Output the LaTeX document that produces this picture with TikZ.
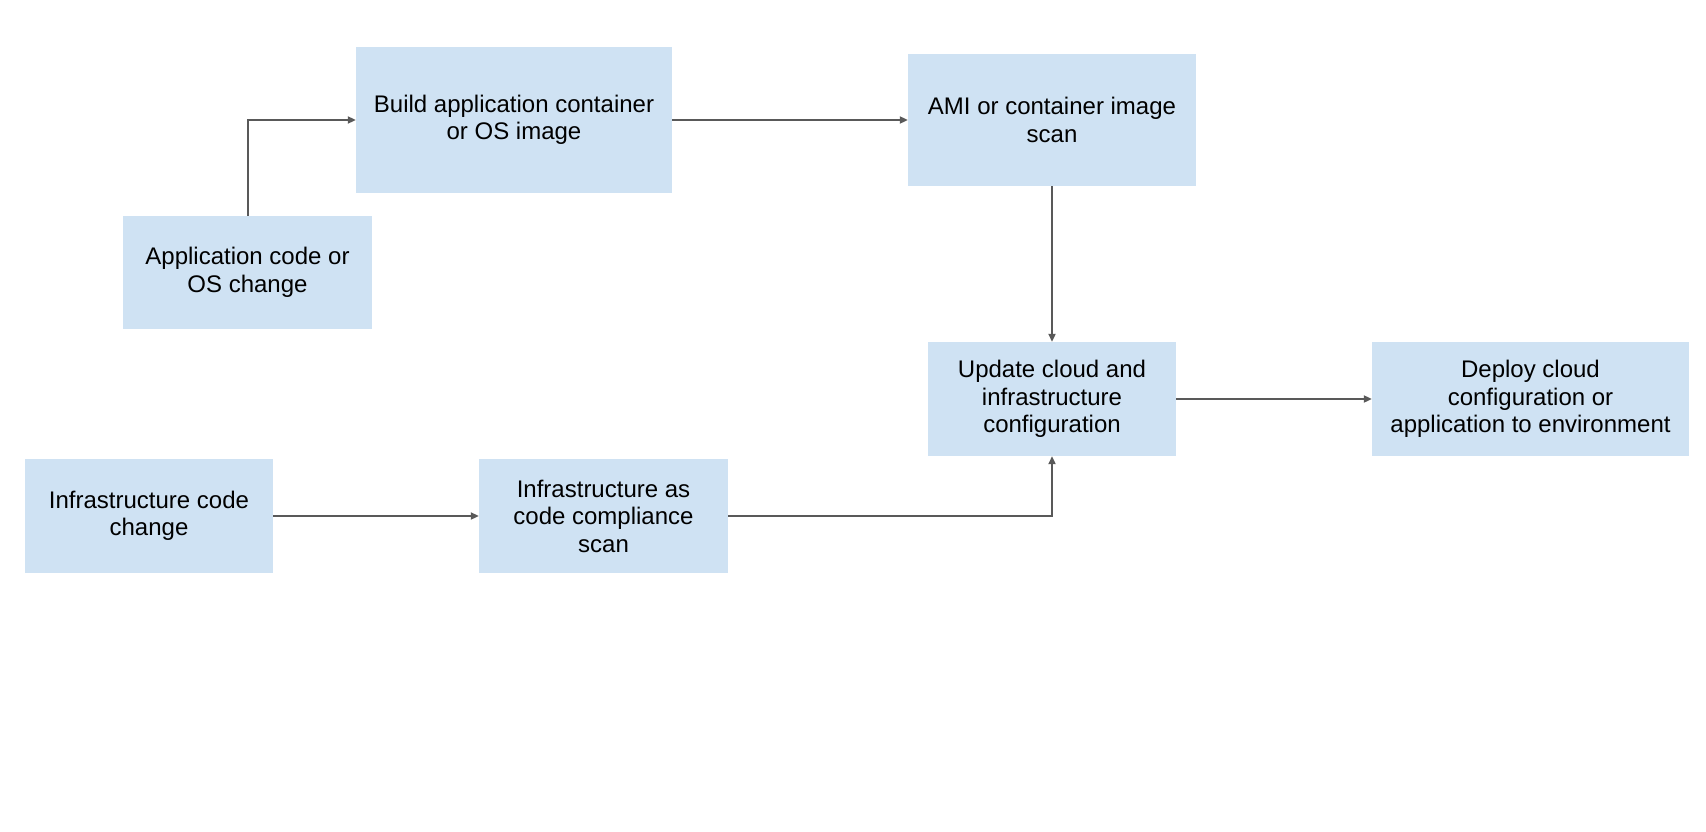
\documentclass[tikz,border=0pt]{standalone}
\usepackage{fontspec}
\setmainfont{Liberation Sans}
\usetikzlibrary{arrows.meta}
\definecolor{boxfill}{HTML}{CFE2F3}
\definecolor{linegray}{HTML}{595959}
\tikzset{
  box/.style={fill=boxfill, draw=none, inner sep=0pt, align=center,
    font=\fontsize{24}{27.5}\selectfont},
  conn/.style={draw=linegray, line width=2pt, -{Triangle[length=8pt,width=7pt]}}
}
\begin{document}
\begin{tikzpicture}[x=1pt,y=-1pt]
\useasboundingbox (0,0) rectangle (1706,832);
\fill[white] (0,0) rectangle (1706,832);
\node[box, minimum width=316pt, minimum height=145pt] (build) at (514,120) {Build application container\\or OS image};
\node[box, minimum width=288pt, minimum height=132pt] (ami) at (1052,120) {AMI or container image\\scan};
\node[box, minimum width=249pt, minimum height=113pt] (app) at (247.5,272.5) {Application code or\\OS change};
\node[box, minimum width=248pt, minimum height=114pt] (upd) at (1052,399) {Update cloud and\\infrastructure\\configuration};
\node[box, minimum width=317pt, minimum height=114pt] (dep) at (1530.5,399) {Deploy cloud\\configuration or\\application to environment};
\node[box, minimum width=248pt, minimum height=114pt] (infra) at (149,516) {Infrastructure code\\change};
\node[box, minimum width=249pt, minimum height=114pt] (iac) at (603.5,516) {Infrastructure as\\code compliance\\scan};
\draw[conn] (app.north) |- (build.west);
\draw[conn] (build.east) -- (ami.west);
\draw[conn] (ami.south) -- (upd.north);
\draw[conn] (upd.east) -- (dep.west);
\draw[conn] (infra.east) -- (iac.west);
\draw[conn] (iac.east) -| (upd.south);
\end{tikzpicture}
\end{document}
